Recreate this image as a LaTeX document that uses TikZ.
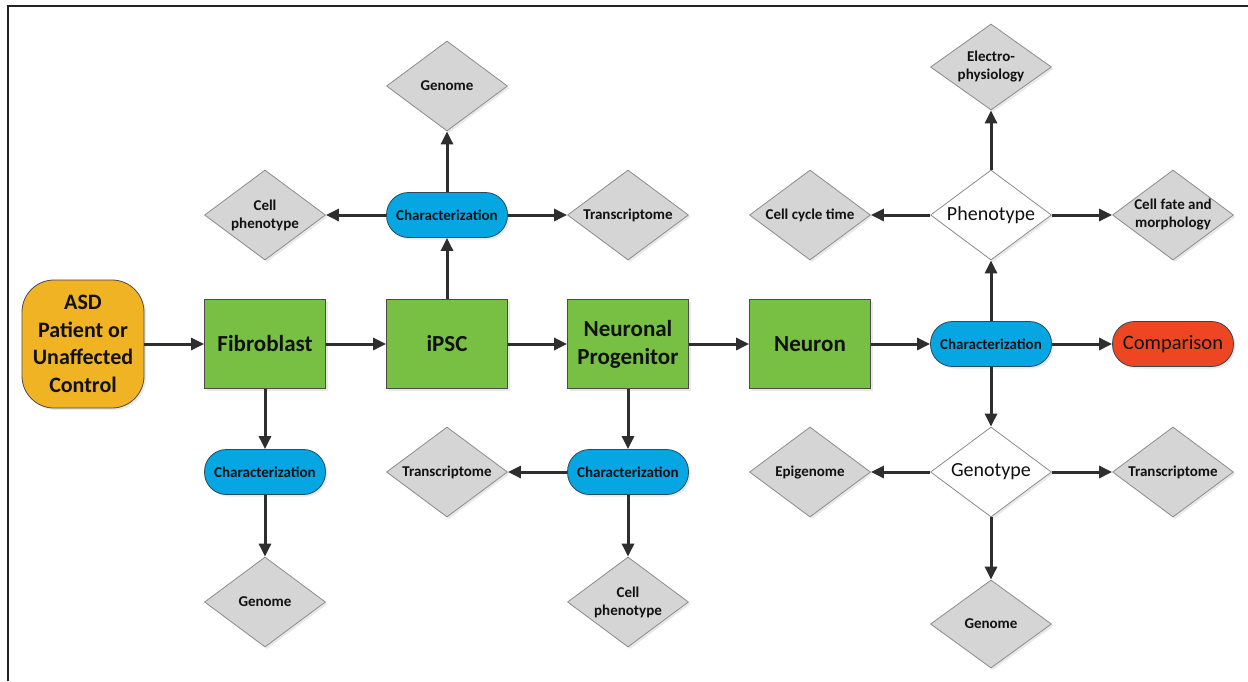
\documentclass[tikz,border=0pt]{standalone}
\usepackage{fontspec}
\setmainfont{Carlito}
\usetikzlibrary{arrows.meta,shapes.geometric,shadows}
\definecolor{boxgreen}{HTML}{78C043}
\definecolor{boxedge}{HTML}{4A4A4A}
\definecolor{pillblue}{HTML}{05A6E2}
\definecolor{pilledge}{HTML}{2A4A5A}
\definecolor{diafill}{HTML}{D5D5D5}
\definecolor{diaedge}{HTML}{8C8C8C}
\definecolor{asdorange}{HTML}{F0B323}
\definecolor{cmpred}{HTML}{EE4623}
\definecolor{arrowc}{HTML}{2E2E2E}
\definecolor{framec}{HTML}{222222}
\definecolor{textc}{HTML}{111111}
\begin{document}
\begin{tikzpicture}[x=1pt,y=-1pt,
  shade/.style={drop shadow={opacity=0.18,shadow xshift=2pt,shadow yshift=-2pt}},
  box/.style={draw=boxedge,fill=boxgreen,line width=0.8pt,minimum width=121pt,minimum height=89pt,
    align=center,inner sep=2pt,text=textc,font=\bfseries\fontsize{23}{28}\selectfont,shade},
  pill/.style={draw=pilledge,fill=pillblue,line width=0.8pt,rounded corners=22pt,minimum width=121pt,
    minimum height=45pt,inner sep=0pt,text=textc,font=\bfseries\fontsize{15}{18}\selectfont,shade},
  dia/.style={diamond,aspect=1.34,draw=diaedge,fill=diafill,line width=0.8pt,minimum width=121pt,
    minimum height=90pt,inner sep=0pt,align=center,text=textc,font=\bfseries\fontsize{15}{18}\selectfont,shade},
  wdia/.style={dia,fill=white,font=\fontsize{20}{24}\selectfont},
  arr/.style={line width=3pt,draw=arrowc,-{Triangle[length=13pt,width=12pt]}}
]
\useasboundingbox (0,0) rectangle (1248,681);
% frame
\draw[framec,line width=2.6pt] (8,681) -- (8,6) -- (1248,6);

% main row
\node[draw=boxedge,fill=asdorange,line width=0.8pt,rounded corners=32pt,minimum width=122pt,minimum height=128pt,
  align=center,inner sep=0pt,text=textc,font=\bfseries\fontsize{22}{27.5}\selectfont,shade] (asd) at (83,344)
  {ASD\\Patient or\\Unaffected\\Control};
\node[box] (fib) at (265,344) {Fibroblast};
\node[box] (ipsc) at (447,344) {iPSC};
\node[box] (np) at (628,344) {Neuronal\\Progenitor};
\node[box] (neu) at (810,344) {Neuron};
\node[pill] (c4) at (991,344) {Characterization};
\node[pill,fill=cmpred,font=\fontsize{20.5}{24}\selectfont] (cmp) at (1173,344) {Comparison};

% iPSC characterization
\node[pill] (c2) at (447,215) {Characterization};
\node[dia] (cp1) at (265,215) {Cell\\phenotype};
\node[dia] (tr1) at (628,215) {Transcriptome};
\node[dia] (ge1) at (447,86) {Genome};

% fibroblast characterization
\node[pill] (c1) at (265,472) {Characterization};
\node[dia] (ge2) at (265,602) {Genome};

% progenitor characterization
\node[pill] (c3) at (628,472) {Characterization};
\node[dia] (tr2) at (447,472) {Transcriptome};
\node[dia] (cp2) at (628,602) {Cell\\phenotype};

% neuron characterization
\node[wdia] (phe) at (991,215) {Phenotype};
\node[dia,minimum height=86pt] (ele) at (991,67) {Electro-\\physiology};
\node[dia] (cct) at (810,215) {Cell cycle time};
\node[dia] (cfm) at (1173,215) {Cell fate and\\morphology};
\node[wdia] (gen) at (991,472) {Genotype};
\node[dia] (epi) at (810,472) {Epigenome};
\node[dia] (tr3) at (1173,472) {Transcriptome};
\node[dia,minimum height=88pt] (ge3) at (991,624) {Genome};

% connectors
\draw[arr] (asd) -- (fib);
\draw[arr] (fib) -- (ipsc);
\draw[arr] (ipsc) -- (np);
\draw[arr] (np) -- (neu);
\draw[arr] (neu) -- (c4);
\draw[arr] (c4) -- (cmp);

\draw[arr] (ipsc) -- (c2);
\draw[arr] (c2) -- (ge1);
\draw[arr] (c2) -- (cp1);
\draw[arr] (c2) -- (tr1);

\draw[arr] (fib) -- (c1);
\draw[arr] (c1) -- (ge2);

\draw[arr] (np) -- (c3);
\draw[arr] (c3) -- (tr2);
\draw[arr] (c3) -- (cp2);

\draw[arr] (c4) -- (phe);
\draw[arr] (phe) -- (ele);
\draw[arr] (phe) -- (cct);
\draw[arr] (phe) -- (cfm);
\draw[arr] (c4) -- (gen);
\draw[arr] (gen) -- (epi);
\draw[arr] (gen) -- (tr3);
\draw[arr] (gen) -- (ge3);
\end{tikzpicture}
\end{document}
